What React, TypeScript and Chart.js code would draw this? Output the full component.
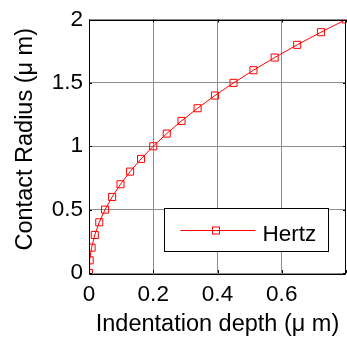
import React, { useEffect, useRef } from "react";
import { Chart, registerables } from "chart.js";

Chart.register(...registerables);

const seriesName = "Hertz";
const contactRadius = [0, 0.1, 0.2, 0.3, 0.4, 0.5, 0.6, 0.7, 0.8, 0.9, 1.0, 1.1, 1.2, 1.3, 1.4, 1.5, 1.6, 1.7, 1.8, 1.9, 2.0];
const indentationDepth = [0, 0.002, 0.008, 0.018, 0.032, 0.05, 0.072, 0.098, 0.128, 0.162, 0.2, 0.242, 0.288, 0.338, 0.392, 0.45, 0.512, 0.578, 0.648, 0.722, 0.8];
const xTickValues = [0, 0.2, 0.4, 0.6];
const yTickValues = [0, 0.5, 1, 1.5, 2];
const xTitle = "Indentation depth (\u03bc m)";
const yTitle = "Contact Radius (\u03bc m)";

const FONT = "'Liberation Sans', Arial, sans-serif";
const RED = "#ff0000";

const framePlugin = {
  id: "frameAndLegend",
  afterDraw(chart: any) {
    const { ctx, chartArea } = chart;
    const { left, right, top, bottom } = chartArea;
    const xs = chart.scales.x;
    const ys = chart.scales.y;
    ctx.save();
    ctx.strokeStyle = "#000";
    ctx.lineWidth = 1;
    ctx.beginPath();
    ctx.rect(Math.round(left) + 0.5, Math.round(top) + 0.5, Math.round(right - left) - 1, Math.round(bottom - top));
    ctx.stroke();
    const tl = 3;
    ctx.beginPath();
    for (const v of [...xTickValues, 0.8]) {
      const px = Math.round(xs.getPixelForValue(v)) + 0.5;
      ctx.moveTo(px, bottom);
      ctx.lineTo(px, bottom - tl);
      ctx.moveTo(px, top);
      ctx.lineTo(px, top + tl);
    }
    for (const v of yTickValues) {
      const py = Math.round(ys.getPixelForValue(v)) + 0.5;
      ctx.moveTo(left, py);
      ctx.lineTo(left + tl, py);
      ctx.moveTo(right, py);
      ctx.lineTo(right - tl, py);
    }
    ctx.stroke();

    // y axis title
    ctx.save();
    ctx.translate(32, (top + bottom) / 2 - 7);
    ctx.rotate(-Math.PI / 2);
    ctx.fillStyle = "#000";
    ctx.font = `23.5px ${FONT}`;
    ctx.textAlign = "center";
    ctx.textBaseline = "alphabetic";
    ctx.fillText(yTitle, 0, 0);
    ctx.restore();

    // legend box
    const bx = Math.round(right) - 181.5;
    const by = Math.round(bottom) - 64.5;
    const bw = 164;
    const bh = 43;
    ctx.fillStyle = "#fff";
    ctx.fillRect(bx, by, bw, bh);
    ctx.strokeStyle = "#000";
    ctx.strokeRect(bx, by, bw, bh);
    const ly = by + 22;
    ctx.strokeStyle = RED;
    ctx.beginPath();
    ctx.moveTo(bx + 16, ly);
    ctx.lineTo(bx + 91, ly);
    ctx.stroke();
    ctx.strokeRect(bx + 48, ly - 3.5, 7, 7);
    ctx.fillStyle = "#000";
    ctx.font = `22.5px ${FONT}`;
    ctx.textBaseline = "alphabetic";
    ctx.textAlign = "left";
    ctx.fillText(seriesName, bx + 98, by + 32.5);
    ctx.restore();
  },
};

export default function App() {
  const ref = useRef<HTMLCanvasElement | null>(null);
  useEffect(() => {
    if (!ref.current) return;
    const data = indentationDepth.map((x, i) => ({ x, y: contactRadius[i] }));
    const chart = new Chart(ref.current, {
      type: "line",
      data: {
        datasets: [
          {
            label: seriesName,
            data,
            borderColor: RED,
            borderWidth: 1,
            backgroundColor: "rgba(0,0,0,0)",
            pointStyle: "rect",
            pointRadius: 5,
            pointBorderColor: RED,
            pointBackgroundColor: "rgba(0,0,0,0)",
            pointBorderWidth: 1,
            tension: 0,
            fill: false,
          },
        ],
      },
      options: {
        responsive: false,
        animation: false,
        layout: { padding: { top: 17, right: 0, left: 0, bottom: 0 } },
        plugins: { legend: { display: false }, tooltip: { enabled: false } },
        scales: {
          x: {
            type: "linear",
            min: 0,
            max: 0.8,
            afterFit: (s: any) => {
              s.height = 68;
            },
            afterBuildTicks: (s: any) => {
              s.ticks = xTickValues.map((v) => ({ value: v }));
            },
            ticks: {
              font: { family: FONT, size: 22.5 },
              color: "#000",
              padding: 8,
              maxRotation: 0,
              callback: (v: any) => String(Math.round(v * 10) / 10),
            },
            grid: { color: "#8c8c8c", lineWidth: 1, drawTicks: false },
            border: { display: false },
            title: {
              display: true,
              text: xTitle,
              color: "#000",
              font: { family: FONT, size: 23.5 },
              padding: { top: 0, bottom: 2 },
            },
          },
          y: {
            type: "linear",
            min: 0,
            max: 2,
            afterFit: (s: any) => {
              s.width = 89;
            },
            afterBuildTicks: (s: any) => {
              s.ticks = yTickValues.map((v) => ({ value: v }));
            },
            ticks: {
              font: { family: FONT, size: 22.5 },
              color: "#000",
              padding: 6,
              callback: (v: any) => String(v),
            },
            grid: { color: "#8c8c8c", lineWidth: 1, drawTicks: false },
            border: { display: false },
            title: { display: false },
          },
        },
      },
      plugins: [
        framePlugin,
        {
          id: "pinArea",
          afterLayout(chart: any) {
            const ca = chart.chartArea;
            const target = 346;
            if (Math.abs(ca.right - target) > 0.5) {
              ca.right = target;
              ca.width = ca.right - ca.left;
              const xs = chart.scales.x;
              xs.right = target;
              xs.width = xs.right - xs.left;
              xs.configure();
              const ys = chart.scales.y;
              ys.configure();
            }
          },
        },
      ],
    });
    return () => chart.destroy();
  }, []);
  return (
    <div style={{ position: "absolute", left: 0, top: 0, width: 347, height: 341, background: "#fff" }}>
      <canvas ref={ref} width={347} height={341} style={{ width: 347, height: 341, display: "block" }} />
    </div>
  );
}
